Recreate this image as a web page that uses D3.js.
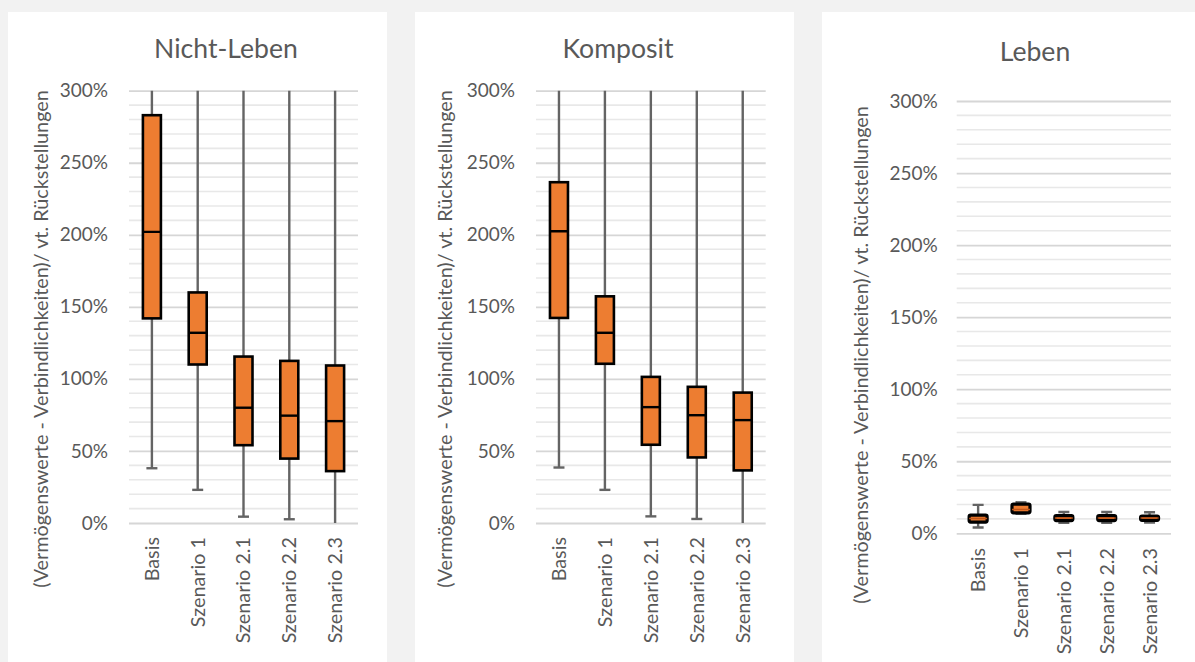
<!DOCTYPE html>
<html>
<head>
<meta charset="utf-8">
<script src="https://cdn.jsdelivr.net/npm/d3@7"></script>
<style>
  html, body { margin: 0; padding: 0; background: #f2f2f2; }
  svg { display: block; }
  text { font-family: Lato, "Noto Sans", sans-serif; fill: #595959; }
</style>
</head>
<body>
<svg id="chart" width="1195" height="662"></svg>
<script>
// ---------- data ----------
const categories = ["Basis", "Szenario 1", "Szenario 2.1", "Szenario 2.2", "Szenario 2.3"];
const panelTitles = ["Nicht-Leben", "Komposit", "Leben"];
const yTickValues = [0, 50, 100, 150, 200, 250, 300];
const yAxisTitle = "(Vermögenswerte - Verbindlichkeiten)/ vt. Rückstellungen";

// values in percent; maxima above 300% run off the top of the axis
const nichtLebenMin    = [38, 23, 4.4, 2.6, -1];
const nichtLebenQ1     = [142, 110, 54, 44.7, 36];
const nichtLebenMedian = [202, 132, 80, 74.5, 70.7];
const nichtLebenQ3     = [283, 160, 115.5, 112.5, 109.3];
const nichtLebenMax    = [320, 320, 320, 320, 320];

const kompositMin    = [38.5, 23, 4.6, 2.8, -1];
const kompositQ1     = [142.3, 110.5, 54.3, 45.5, 36.5];
const kompositMedian = [202.5, 132, 80.4, 74.8, 71.4];
const kompositQ3     = [236.5, 157.3, 101.4, 94.5, 90.5];
const kompositMax    = [320, 320, 320, 320, 320];

const lebenMin    = [4, 13.5, 7.2, 7.2, 7.5];
const lebenQ1     = [7.8, 14.2, 8.8, 8.8, 9.0];
const lebenMedian = [10.3, 16.5, 10.6, 10.6, 10.6];
const lebenQ3     = [12.6, 20.2, 12.2, 12.2, 12.0];
const lebenMax    = [19.7, 21.5, 14.8, 14.8, 14.6];

// ---------- layout ----------
const panels = [
  { title: panelTitles[0], min: nichtLebenMin, q1: nichtLebenQ1, med: nichtLebenMedian, q3: nichtLebenQ3, max: nichtLebenMax,
    bx: 8, bw: 379, left: 129, right: 358, top: 90.7, bottom: 523, titleX: 226, titleY: 58, axisTitleX: 41, axisTitleY: 339, tickGap: 21, catTop: 537, boxStroke: 2.6 },
  { title: panelTitles[1], min: kompositMin, q1: kompositQ1, med: kompositMedian, q3: kompositQ3, max: kompositMax,
    bx: 415, bw: 379, left: 536, right: 765.7, top: 90.7, bottom: 523, titleX: 618, titleY: 58, axisTitleX: 445, axisTitleY: 339, tickGap: 21, catTop: 537, boxStroke: 2.6 },
  { title: panelTitles[2], min: lebenMin, q1: lebenQ1, med: lebenMedian, q3: lebenQ3, max: lebenMax,
    bx: 822, bw: 380, left: 956.7, right: 1171, top: 101, bottom: 533.3, titleX: 1035, titleY: 61, axisTitleX: 861, axisTitleY: 355, tickGap: 19, catTop: 548, boxStroke: 3.2 }
];

const svg = d3.select("#chart");
const orange = "#ED7D31";
const whiskerColor = "#646464";

panels.forEach((p, pi) => {
  const g = svg.append("g");
  g.append("rect").attr("x", p.bx).attr("y", 12).attr("width", p.bw).attr("height", 662 - 12).attr("fill", "#ffffff");

  const x = d3.scaleBand().domain(categories).range([p.left, p.right]).paddingInner(0).paddingOuter(0);
  const y = d3.scaleLinear().domain([0, 300]).range([p.bottom, p.top]);

  // minor gridlines (every 10%)
  const minor = d3.range(0, 301, 10).filter(v => v % 50 !== 0);
  g.append("g").selectAll("line").data(minor).join("line")
    .attr("x1", p.left).attr("x2", p.right)
    .attr("y1", d => y(d)).attr("y2", d => y(d))
    .attr("stroke", "#e8e8e8").attr("stroke-width", 1.6);

  // major gridlines + axis labels via d3 axis
  const axis = d3.axisLeft(y).tickValues(yTickValues).tickFormat(d => d + "%")
    .tickSize(-(p.right - p.left)).tickPadding(p.tickGap);
  const ag = g.append("g").attr("transform", `translate(${p.left},0)`).call(axis);
  ag.select(".domain").remove();
  ag.selectAll(".tick line").attr("stroke", "#d6d6d6").attr("stroke-width", 1.8);
  ag.selectAll(".tick text").attr("font-size", 19).attr("fill", "#595959")
    .style("font-family", "Lato, 'Noto Sans', sans-serif");

  // clip for boxes
  const clipId = "clip" + pi;
  g.append("clipPath").attr("id", clipId).append("rect")
    .attr("x", p.left - 5).attr("y", p.top).attr("width", p.right - p.left + 10).attr("height", p.bottom - p.top);

  const data = categories.map((c, i) => ({ c, min: p.min[i], q1: p.q1[i], med: p.med[i], q3: p.q3[i], max: p.max[i] }));
  const bw = 18, capW = 11;
  const boxes = g.append("g").attr("clip-path", `url(#${clipId})`);
  const cx = d => x(d.c) + x.bandwidth() / 2;

  // whiskers
  boxes.selectAll(".wh").data(data).join("line").attr("class", "wh")
    .attr("x1", cx).attr("x2", cx)
    .attr("y1", d => y(d.max)).attr("y2", d => y(d.min))
    .attr("stroke", whiskerColor).attr("stroke-width", 2.4);
  // caps
  const caps = [];
  data.forEach(d => { caps.push({ d, v: d.max }); caps.push({ d, v: d.min }); });
  boxes.selectAll(".cap").data(caps.filter(k => k.v >= 0 && k.v <= 300)).join("line").attr("class", "cap")
    .attr("x1", k => cx(k.d) - capW / 2).attr("x2", k => cx(k.d) + capW / 2)
    .attr("y1", k => y(k.v)).attr("y2", k => y(k.v))
    .attr("stroke", whiskerColor).attr("stroke-width", 2.4);
  // box
  boxes.selectAll(".box").data(data).join("rect").attr("class", "box")
    .attr("x", d => cx(d) - bw / 2).attr("width", bw)
    .attr("y", d => y(d.q3)).attr("height", d => y(d.q1) - y(d.q3))
    .attr("rx", pi === 2 ? 1.5 : 0)
    .attr("fill", orange).attr("stroke", "#000").attr("stroke-width", p.boxStroke);
  // median
  boxes.selectAll(".med").data(data).join("line").attr("class", "med")
    .attr("x1", d => cx(d) - bw / 2).attr("x2", d => cx(d) + bw / 2)
    .attr("y1", d => y(d.med)).attr("y2", d => y(d.med))
    .attr("stroke", pi === 2 ? "#c0561a" : "#000").attr("stroke-width", pi === 2 ? 1.6 : 2.4);

  // category labels
  g.selectAll(".cat").data(categories).join("text").attr("class", "cat")
    .attr("transform", c => `translate(${x(c) + x.bandwidth() / 2},${p.catTop}) rotate(-90)`)
    .attr("text-anchor", "end").attr("dy", "0.35em")
    .attr("font-size", 19.8).text(c => c);

  // title
  g.append("text").attr("x", p.titleX).attr("y", p.titleY).attr("text-anchor", "middle")
    .attr("font-size", 26.6).text(p.title);

  // axis title
  g.append("text").attr("transform", `translate(${p.axisTitleX},${p.axisTitleY}) rotate(-90)`)
    .attr("text-anchor", "middle").attr("dy", "0.35em").attr("font-size", 19.8).text(yAxisTitle);
});
</script>
</body>
</html>
